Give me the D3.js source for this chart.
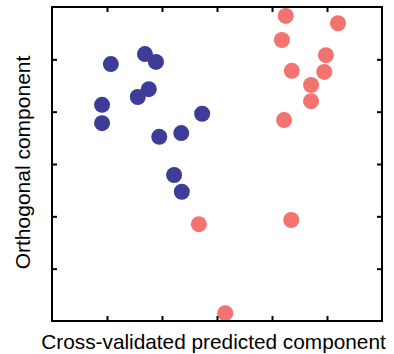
<!DOCTYPE html>
<html>
<head>
<meta charset="utf-8">
<script src="https://cdn.jsdelivr.net/npm/d3@7"></script>
<style>
  body { margin: 0; background: #fff; }
  svg { display: block; }
</style>
</head>
<body>
<div id="graph"></div>
<script>
// Group A (blue) scores
const blueX = [1.07, 1.69, 1.89, 1.76, 1.56, 0.91, 0.91, 1.95, 2.35, 2.73, 2.22, 2.36];
const blueY = [4.91, 5.10, 4.95, 4.43, 4.28, 4.13, 3.78, 3.52, 3.59, 3.96, 2.79, 2.47];
// Group B (red) scores
const redX = [4.25, 5.20, 4.18, 4.98, 4.36, 4.95, 4.71, 4.71, 4.22, 2.67, 4.35, 3.15];
const redY = [5.83, 5.69, 5.37, 5.08, 4.78, 4.76, 4.51, 4.20, 3.84, 1.85, 1.93, 0.15];
const tickVals = [1, 2, 3, 4, 5];

const width = 394, height = 354;
const margin = { left: 52, right: 12, top: 7, bottom: 33 };
const innerW = width - margin.left - margin.right;
const innerH = height - margin.top - margin.bottom;

const svg = d3.select("#graph").append("svg")
  .attr("width", width)
  .attr("height", height);

const g = svg.append("g")
  .attr("transform", "translate(" + margin.left + "," + margin.top + ")");

const x = d3.scaleLinear().domain([0, 6]).range([0, innerW]);
const y = d3.scaleLinear().domain([0, 6]).range([innerH, 0]);

g.append("clipPath").attr("id", "clip")
  .append("rect").attr("width", innerW).attr("height", innerH);

const dots = g.append("g").attr("clip-path", "url(#clip)");

function drawGroup(xs, ys, color) {
  dots.selectAll(null)
    .data(xs.map((v, i) => ({ x: v, y: ys[i] })))
    .enter()
    .append("circle")
    .attr("cx", d => x(d.x))
    .attr("cy", d => y(d.y))
    .attr("r", 8)
    .attr("fill", color);
}
drawGroup(blueX, blueY, "#3d3d99");
drawGroup(redX, redY, "#f27370");

// axes with inward ticks on all four sides
function styleAxis(sel) {
  sel.selectAll("text").remove();
  sel.select(".domain").remove();
  sel.selectAll(".tick line").attr("stroke", "#000").attr("stroke-width", 2);
}
g.append("g").attr("transform", "translate(0," + innerH + ")")
  .call(d3.axisBottom(x).tickValues(tickVals).tickSizeInner(-5).tickSizeOuter(0)).call(styleAxis);
g.append("g")
  .call(d3.axisTop(x).tickValues(tickVals).tickSizeInner(-5).tickSizeOuter(0)).call(styleAxis);
g.append("g")
  .call(d3.axisLeft(y).tickValues(tickVals).tickSizeInner(-5).tickSizeOuter(0)).call(styleAxis);
g.append("g").attr("transform", "translate(" + innerW + ",0)")
  .call(d3.axisRight(y).tickValues(tickVals).tickSizeInner(-5).tickSizeOuter(0)).call(styleAxis);

// frame
g.append("rect")
  .attr("width", innerW)
  .attr("height", innerH)
  .attr("fill", "none")
  .attr("stroke", "#000")
  .attr("stroke-width", 2);

// labels
svg.append("text")
  .attr("x", 213.5)
  .attr("y", 349)
  .attr("text-anchor", "middle")
  .style("font-family", "'Liberation Sans', Arial, sans-serif")
  .style("font-size", "20.8px")
  .text("Cross-validated predicted component");

svg.append("text")
  .attr("transform", "translate(30,162.5)rotate(-90)")
  .attr("text-anchor", "middle")
  .style("font-family", "'Liberation Sans', Arial, sans-serif")
  .style("font-size", "21px")
  .text("Orthogonal component");
</script>
</body>
</html>
